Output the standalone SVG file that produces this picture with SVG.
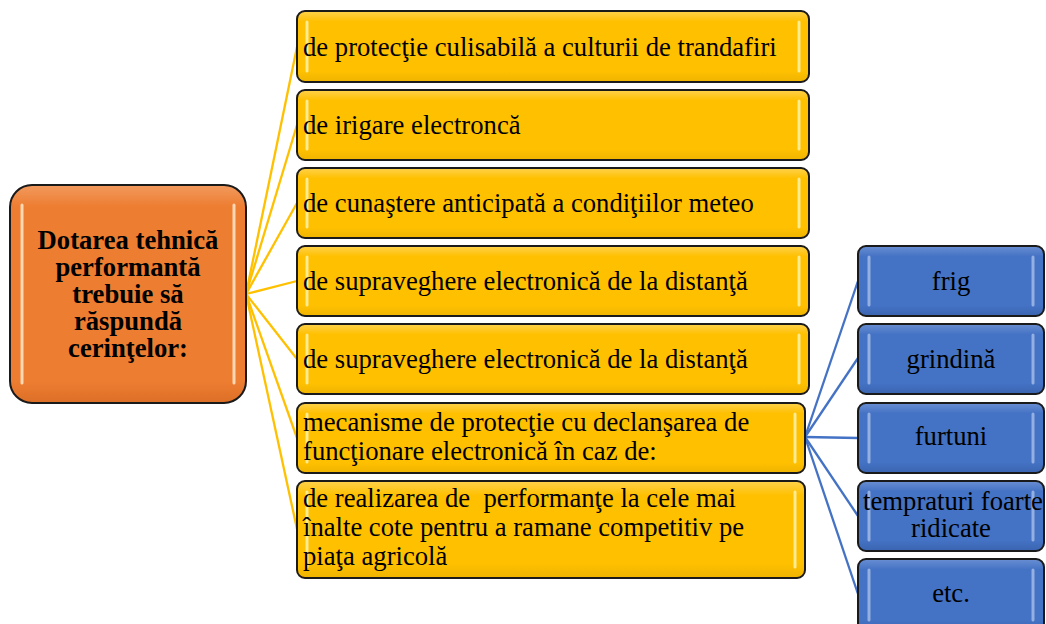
<svg xmlns="http://www.w3.org/2000/svg" width="1046" height="624" viewBox="0 0 1046 624">
<style>
.box{stroke:#1a1a1a;stroke-width:2}
.hy{stroke:#FFF0A0;stroke-width:3;stroke-linecap:round;opacity:0.9}
.ho{stroke:#FFE2C4;stroke-width:3;stroke-linecap:round;opacity:0.9}
.hb{stroke:#A9C0EA;stroke-width:3;stroke-linecap:round;opacity:0.8}
.t{font-family:"Liberation Serif","Times New Roman",serif;font-size:26.67px;fill:#000}
.rt{font-family:"Liberation Serif","Times New Roman",serif;font-size:26.67px;font-weight:bold;fill:#000;text-anchor:middle}
.c{text-anchor:middle}
.ly{stroke:#FFC000;stroke-width:2.3;fill:none}
.lb{stroke:#4472C4;stroke-width:2.3;fill:none}
</style>
<defs>
<linearGradient id="gy" x1="0" y1="0" x2="0" y2="1"><stop offset="0" stop-color="#FFD24D"/><stop offset="0.15" stop-color="#FFC000"/><stop offset="0.85" stop-color="#FFC000"/><stop offset="1" stop-color="#F0B400"/></linearGradient>
<linearGradient id="go" x1="0" y1="0" x2="0" y2="1"><stop offset="0" stop-color="#F29A5E"/><stop offset="0.1" stop-color="#ED7D31"/><stop offset="0.9" stop-color="#ED7D31"/><stop offset="1" stop-color="#DC6F27"/></linearGradient>
<linearGradient id="gb" x1="0" y1="0" x2="0" y2="1"><stop offset="0" stop-color="#6A8FD3"/><stop offset="0.15" stop-color="#4472C4"/><stop offset="0.85" stop-color="#4472C4"/><stop offset="1" stop-color="#3A64B0"/></linearGradient>
</defs>
<g id="connectors">
<line class="ly" x1="246" y1="294" x2="297" y2="47"/>
<line class="ly" x1="246" y1="294" x2="297" y2="125"/>
<line class="ly" x1="246" y1="294" x2="297" y2="203"/>
<line class="ly" x1="246" y1="294" x2="297" y2="281"/>
<line class="ly" x1="246" y1="294" x2="297" y2="359"/>
<line class="ly" x1="246" y1="294" x2="297" y2="438"/>
<line class="ly" x1="246" y1="294" x2="297" y2="529"/>
<line class="lb" x1="805" y1="437" x2="858" y2="281"/>
<line class="lb" x1="805" y1="437" x2="858" y2="358"/>
<line class="lb" x1="805" y1="437" x2="858" y2="438"/>
<line class="lb" x1="805" y1="437" x2="858" y2="516"/>
<line class="lb" x1="805" y1="437" x2="858" y2="594"/>
</g>
<g id="root">
<rect class="box" x="10" y="185" width="236" height="218" rx="22" fill="url(#go)"/>
<line class="ho" x1="22" y1="205" x2="22" y2="383"/>
<line class="ho" x1="234" y1="205" x2="234" y2="383"/>
<text class="rt" x="128" y="249">Dotarea tehnică</text>
<text class="rt" x="128" y="276">performantă</text>
<text class="rt" x="128" y="303">trebuie să</text>
<text class="rt" x="128" y="330">răspundă</text>
<text class="rt" x="128" y="357">cerinţelor:</text>
</g>
<g id="n1">
<rect class="box" x="297" y="11" width="512" height="71" rx="8" fill="url(#gy)"/>
<line class="hy" x1="307" y1="22" x2="307" y2="71"/><line class="hy" x1="799" y1="22" x2="799" y2="71"/>
<text class="t" x="303" y="56">de protecţie culisabilă a culturii de trandafiri</text>
</g>
<g id="n2">
<rect class="box" x="297" y="90" width="512" height="70" rx="8" fill="url(#gy)"/>
<line class="hy" x1="307" y1="101" x2="307" y2="149"/><line class="hy" x1="799" y1="101" x2="799" y2="149"/>
<text class="t" x="303" y="134">de irigare electroncă</text>
</g>
<g id="n3">
<rect class="box" x="297" y="168" width="512" height="70" rx="8" fill="url(#gy)"/>
<line class="hy" x1="307" y1="179" x2="307" y2="227"/><line class="hy" x1="799" y1="179" x2="799" y2="227"/>
<text class="t" x="303" y="212">de cunaştere anticipată a condiţiilor meteo</text>
</g>
<g id="n4">
<rect class="box" x="297" y="246" width="512" height="70" rx="8" fill="url(#gy)"/>
<line class="hy" x1="307" y1="257" x2="307" y2="305"/><line class="hy" x1="799" y1="257" x2="799" y2="305"/>
<text class="t" x="303" y="290">de supraveghere electronică de la distanţă</text>
</g>
<g id="n5">
<rect class="box" x="297" y="324" width="512" height="70" rx="8" fill="url(#gy)"/>
<line class="hy" x1="307" y1="335" x2="307" y2="383"/><line class="hy" x1="799" y1="335" x2="799" y2="383"/>
<text class="t" x="303" y="368">de supraveghere electronică de la distanţă</text>
</g>
<g id="n6">
<rect class="box" x="297" y="403" width="508" height="70" rx="8" fill="url(#gy)"/>
<line class="hy" x1="307" y1="414" x2="307" y2="462"/><line class="hy" x1="795" y1="414" x2="795" y2="462"/>
<text class="t" x="303" y="431">mecanisme de protecţie cu declanşarea de</text>
<text class="t" x="303" y="460">funcţionare electronică în caz de:</text>
</g>
<g id="n7">
<rect class="box" x="297" y="481" width="508" height="97" rx="8" fill="url(#gy)"/>
<line class="hy" x1="307" y1="492" x2="307" y2="567"/><line class="hy" x1="795" y1="492" x2="795" y2="567"/>
<text class="t" x="303" y="507" style="white-space:pre">de realizarea de  performanţe la cele mai</text>
<text class="t" x="303" y="536">înalte cote pentru a ramane competitiv pe</text>
<text class="t" x="303" y="565">piaţa agricolă</text>
</g>
<g id="b1">
<rect class="box" x="858" y="246" width="186" height="70" rx="8" fill="url(#gb)"/>
<line class="hb" x1="869" y1="257" x2="869" y2="305"/><line class="hb" x1="1033" y1="257" x2="1033" y2="305"/>
<text class="t c" x="951" y="290">frig</text>
</g>
<g id="b2">
<rect class="box" x="858" y="324" width="186" height="70" rx="8" fill="url(#gb)"/>
<line class="hb" x1="869" y1="335" x2="869" y2="383"/><line class="hb" x1="1033" y1="335" x2="1033" y2="383"/>
<text class="t c" x="951" y="368">grindină</text>
</g>
<g id="b3">
<rect class="box" x="858" y="403" width="186" height="70" rx="8" fill="url(#gb)"/>
<line class="hb" x1="869" y1="414" x2="869" y2="462"/><line class="hb" x1="1033" y1="414" x2="1033" y2="462"/>
<text class="t c" x="951" y="445">furtuni</text>
</g>
<g id="b4">
<rect class="box" x="858" y="481" width="186" height="70" rx="8" fill="url(#gb)"/>
<line class="hb" x1="869" y1="492" x2="869" y2="540"/><line class="hb" x1="1033" y1="492" x2="1033" y2="540"/>
<text class="t c" x="953" y="510">tempraturi foarte</text>
<text class="t c" x="951" y="537">ridicate</text>
</g>
<g id="b5">
<rect class="box" x="858" y="559" width="186" height="72" rx="8" fill="url(#gb)"/>
<line class="hb" x1="869" y1="570" x2="869" y2="620"/><line class="hb" x1="1033" y1="570" x2="1033" y2="620"/>
<text class="t c" x="951" y="602">etc.</text>
</g>
</svg>
